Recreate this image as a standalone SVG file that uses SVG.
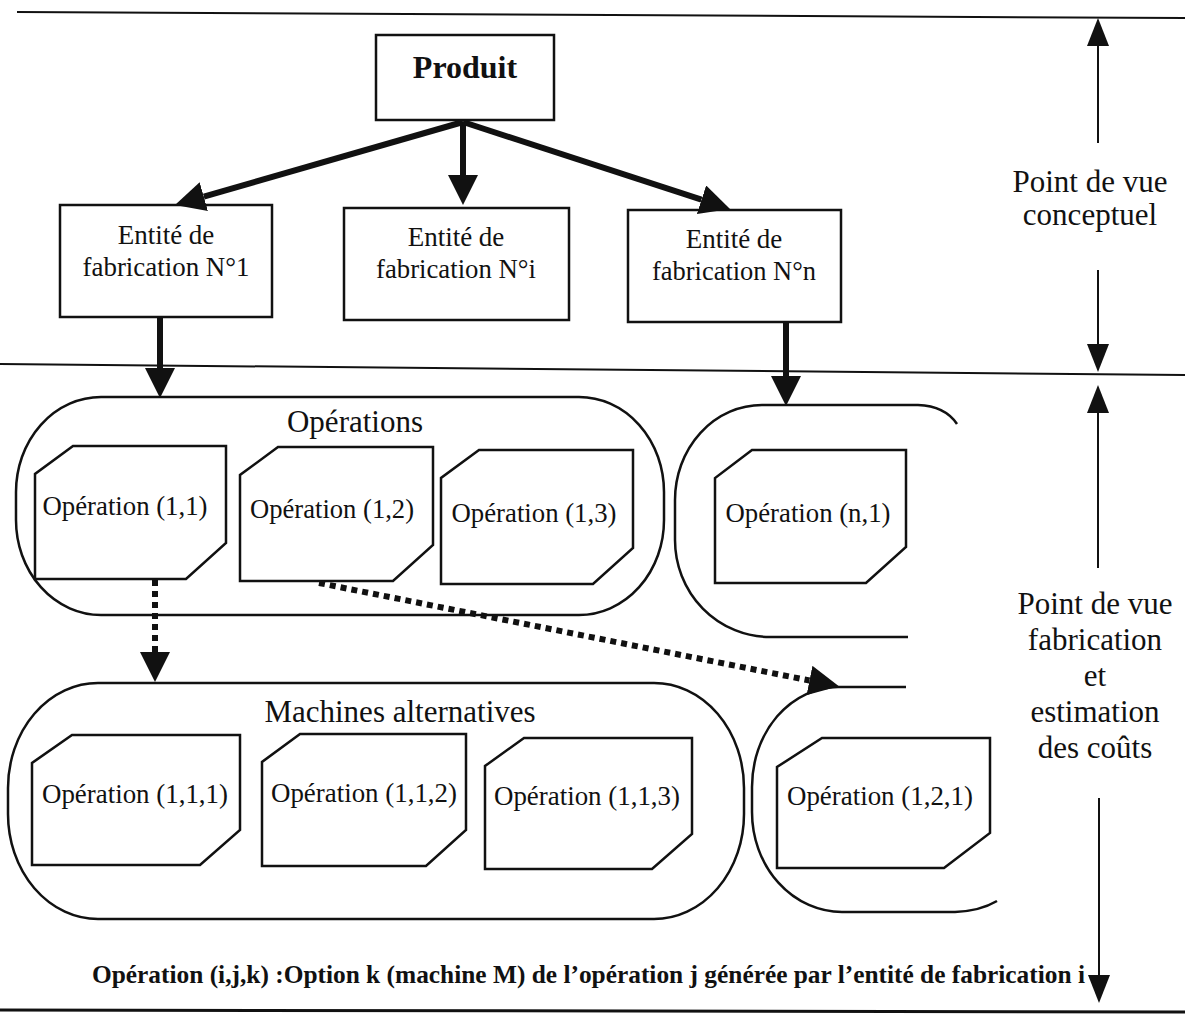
<svg xmlns="http://www.w3.org/2000/svg" width="1185" height="1016" viewBox="0 0 1185 1016">
<style>
text{font-family:"Liberation Serif","Times New Roman",serif;fill:#111}
.box{fill:#fff;stroke:#111;stroke-width:2.5}
.cont{fill:none;stroke:#111;stroke-width:2.5}
.op{fill:#fff;stroke:#111;stroke-width:2.5}
.thick{stroke:#111;stroke-width:6;fill:none}
.dot{stroke:#111;stroke-width:6;fill:none;stroke-dasharray:6 5}
.thin{stroke:#111;stroke-width:2;fill:none}
.t26{font-size:27px;text-anchor:middle}
.t31{font-size:31px;text-anchor:middle}
.op-t{font-size:27px;text-anchor:middle}
</style>
<defs>
<marker id="big" markerUnits="userSpaceOnUse" markerWidth="30" markerHeight="30" refX="0" refY="15" orient="auto"><path d="M0,0 L30,15 L0,30 z" fill="#111"/></marker>
<marker id="small" markerUnits="userSpaceOnUse" markerWidth="28" markerHeight="22" refX="0" refY="11" orient="auto"><path d="M0,0 L28,11 L0,22 z" fill="#111"/></marker>
</defs>
<rect width="1185" height="1016" fill="#fff"/>

<g id="separators">
<line x1="17" y1="12" x2="1185" y2="18" class="thin"/>
<line x1="0" y1="364" x2="1185" y2="375" class="thin"/>
<line x1="0" y1="1010" x2="1185" y2="1012" stroke="#111" stroke-width="3"/>
</g>

<g id="produit">
<rect class="box" x="376" y="35" width="178" height="85"/>
<text x="465" y="78" font-size="32" font-weight="bold" text-anchor="middle">Produit</text>
</g>

<g id="entite1">
<rect class="box" x="60" y="205" width="212" height="112"/>
<text class="t26" x="166" y="244">Entité de</text>
<text class="t26" x="166" y="276" textLength="167" lengthAdjust="spacingAndGlyphs">fabrication N°1</text>
</g>
<g id="entitei">
<rect class="box" x="344" y="208" width="225" height="112"/>
<text class="t26" x="456" y="246">Entité de</text>
<text class="t26" x="456" y="278" textLength="160" lengthAdjust="spacingAndGlyphs">fabrication N°i</text>
</g>
<g id="entiten">
<rect class="box" x="628" y="210" width="213" height="112"/>
<text class="t26" x="734" y="248">Entité de</text>
<text class="t26" x="734" y="280" textLength="164" lengthAdjust="spacingAndGlyphs">fabrication N°n</text>
</g>

<g id="operations">
<rect class="cont" x="16" y="397" width="648" height="218" rx="85" ry="95"/>
<text class="t31" x="355" y="432">Opérations</text>
</g>
<g id="op11">
<polygon class="op" points="73,446 226,446 226,543 186,579 35,579 35,474"/>
<text class="op-t" x="125" y="515" textLength="165" lengthAdjust="spacingAndGlyphs">Opération (1,1)</text>
</g>
<g id="op12">
<polygon class="op" points="278,447 433,447 433,545 393,581 240,581 240,475"/>
<text class="op-t" x="332" y="518" textLength="164" lengthAdjust="spacingAndGlyphs">Opération (1,2)</text>
</g>
<g id="op13">
<polygon class="op" points="479,450 633,450 633,548 593,584 441,584 441,478"/>
<text class="op-t" x="534" y="522" textLength="165" lengthAdjust="spacingAndGlyphs">Opération (1,3)</text>
</g>

<g id="operations-n">
<path class="cont" d="M957,424 Q945,406 918,405 L762,405 A87,95 0 0 0 675,500 L675,540 A95,97 0 0 0 770,637 L908,637"/>
</g>
<g id="opn1">
<polygon class="op" points="752,450 906,450 906,547 866,583 715,583 715,478"/>
<text class="op-t" x="808" y="522" textLength="165" lengthAdjust="spacingAndGlyphs">Opération (n,1)</text>
</g>

<g id="machines">
<rect class="cont" x="8" y="683" width="736" height="236" rx="90" ry="105"/>
<text class="t31" x="400" y="722">Machines alternatives</text>
</g>
<g id="op111">
<polygon class="op" points="72,735 240,735 240,830 200,865 32,865 32,763"/>
<text class="op-t" x="135" y="803" textLength="186" lengthAdjust="spacingAndGlyphs">Opération (1,1,1)</text>
</g>
<g id="op112">
<polygon class="op" points="300,734 466,734 466,830 426,866 262,866 262,762"/>
<text class="op-t" x="364" y="802" textLength="186" lengthAdjust="spacingAndGlyphs">Opération (1,1,2)</text>
</g>
<g id="op113">
<polygon class="op" points="524,738 692,738 692,834 652,869 485,869 485,766"/>
<text class="op-t" x="587" y="805" textLength="186" lengthAdjust="spacingAndGlyphs">Opération (1,1,3)</text>
</g>

<g id="machines-n">
<path class="cont" d="M906,687 L838,687 A86,100 0 0 0 752,787 L752,812 A90,100 0 0 0 842,912 L955,912 Q980,911 997,901"/>
</g>
<g id="op121">
<polygon class="op" points="822,738 990,738 990,833 944,868 777,868 777,767"/>
<text class="op-t" x="880" y="805" textLength="186" lengthAdjust="spacingAndGlyphs">Opération (1,2,1)</text>
</g>

<g id="labels">
<text class="t31" x="1090" y="192">Point de vue</text>
<text class="t31" x="1090" y="225">conceptuel</text>
<text class="t31" x="1095" y="614">Point de vue</text>
<text class="t31" x="1095" y="650">fabrication</text>
<text class="t31" x="1095" y="686">et</text>
<text class="t31" x="1095" y="722">estimation</text>
<text class="t31" x="1095" y="758">des coûts</text>
<text x="92" y="983" font-size="25" font-weight="bold" textLength="993" lengthAdjust="spacingAndGlyphs">Opération (i,j,k) :Option k (machine M) de l’opération j générée par l’entité de fabrication i</text>
</g>

<g id="connectors">
<line class="thick" x1="463" y1="122" x2="203.8" y2="196.7" marker-end="url(#big)"/>
<line class="thick" x1="463" y1="122" x2="463" y2="175" marker-end="url(#big)"/>
<line class="thick" x1="463" y1="122" x2="701.5" y2="199.7" marker-end="url(#big)"/>
<line class="thick" x1="160" y1="317" x2="160" y2="368" marker-end="url(#big)"/>
<line class="thick" x1="786" y1="322" x2="786" y2="376" marker-end="url(#big)"/>
<line class="dot" x1="155" y1="580" x2="155" y2="652" marker-end="url(#big)"/>
<line class="dot" x1="319" y1="583" x2="809.5" y2="680.5" marker-end="url(#big)"/>
<line class="thin" x1="1098" y1="143" x2="1098" y2="46" marker-end="url(#small)"/>
<line class="thin" x1="1098" y1="270" x2="1098" y2="344" marker-end="url(#small)"/>
<line class="thin" x1="1098" y1="568" x2="1098" y2="413" marker-end="url(#small)"/>
<line class="thin" x1="1099" y1="798" x2="1099" y2="975" marker-end="url(#small)"/>
</g>
</svg>
